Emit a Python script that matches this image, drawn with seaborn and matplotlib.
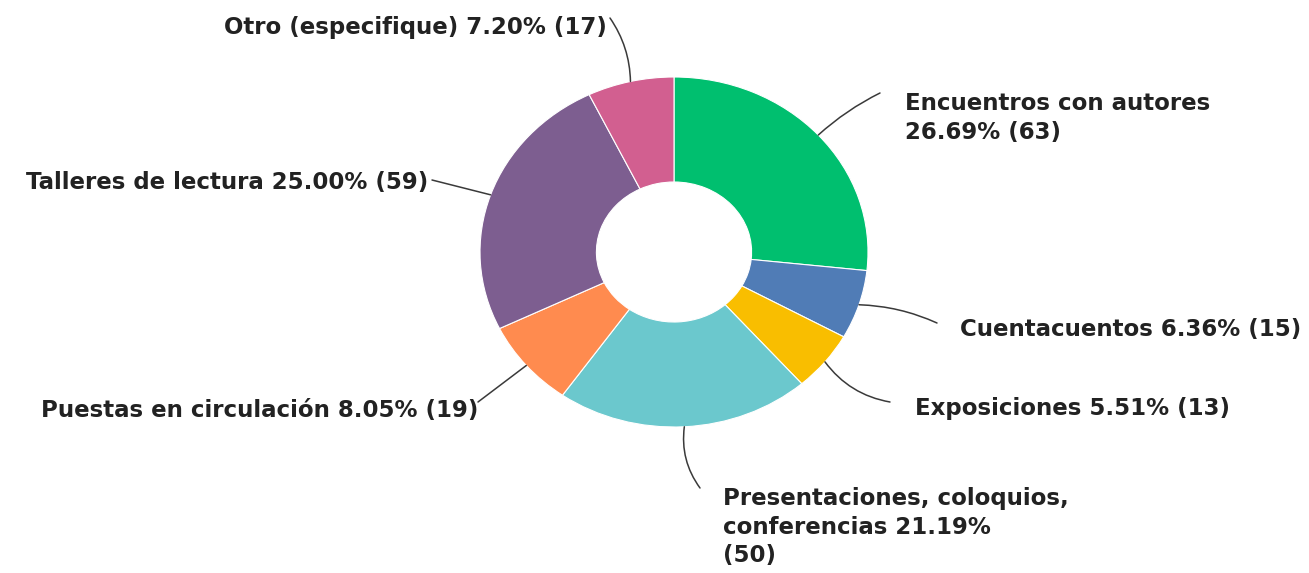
import matplotlib
matplotlib.use("Agg")
import matplotlib.pyplot as plt
import seaborn as sns
import numpy as np

# Data
categories = ["Encuentros con autores", "Cuentacuentos", "Exposiciones",
              "Presentaciones, coloquios, conferencias", "Puestas en circulación",
              "Talleres de lectura", "Otro (especifique)"]
percents = [26.69, 6.36, 5.51, 21.19, 8.05, 25.00, 7.20]
counts = [63, 15, 13, 50, 19, 59, 17]

colors = ["#00BF6F", "#507CB6", "#F9BE00", "#6BC8CD", "#FF8B4F", "#7D5E90", "#D25F90"]

# label layout (pixel positions in the 1309x573 image)
label_text = [
    "Encuentros con autores\n26.69% (63)",
    "Cuentacuentos 6.36% (15)",
    "Exposiciones 5.51% (13)",
    "Presentaciones, coloquios,\nconferencias 21.19%\n(50)",
    "Puestas en circulación 8.05% (19)",
    "Talleres de lectura 25.00% (59)",
    "Otro (especifique) 7.20% (17)",
]
line_end = [(880, 93), (937, 323), (890, 402), (700, 488), (478, 402), (432, 180), (610, 18)]
text_pos = [(905, 118), (960, 330), (915, 408), (723, 527), (478, 410), (428, 183), (607, 28)]
text_ha = ["left", "left", "left", "left", "right", "right", "right"]
line_rad = [0.07, 0.1, -0.2, -0.2, 0.0, 0.0, -0.15]

W, H = 1309, 573
cx, cy, rx, ry = 674, 252, 194, 175


def px(x, y):
    return (x - cx) / rx, (cy - y) / ry


sns.set_style("white")
plt.rcParams["font.family"] = ["DejaVu Sans"]

fig = plt.figure(figsize=(W / 100, H / 100), dpi=100)
ax = fig.add_axes([0, 0, 1, 1])

wedges, _ = ax.pie(counts, colors=sns.color_palette(colors), startangle=90,
                   counterclock=False, radius=1,
                   wedgeprops=dict(width=0.6, edgecolor="white", linewidth=0.8))
ax.set_aspect("auto")
ax.set_xlim(-cx / rx, (W - cx) / rx)
ax.set_ylim(-(H - cy) / ry, cy / ry)
ax.axis("off")

for i, w in enumerate(wedges):
    mid = np.deg2rad((w.theta1 + w.theta2) / 2)
    start = (np.cos(mid) * 1.0, np.sin(mid) * 1.0)
    end = px(*line_end[i])
    ax.annotate("", xy=start, xytext=end,
                arrowprops=dict(arrowstyle="-", color="#3a3a3a", lw=1.1,
                                shrinkA=0, shrinkB=0,
                                connectionstyle=f"arc3,rad={line_rad[i]}"))
    tx, ty = px(*text_pos[i])
    ax.text(tx, ty, label_text[i], ha=text_ha[i], va="center",
            fontsize=16.5, fontweight="bold", color="#222222", linespacing=1.3)

fig.savefig("out.png", dpi=100, facecolor="white")
